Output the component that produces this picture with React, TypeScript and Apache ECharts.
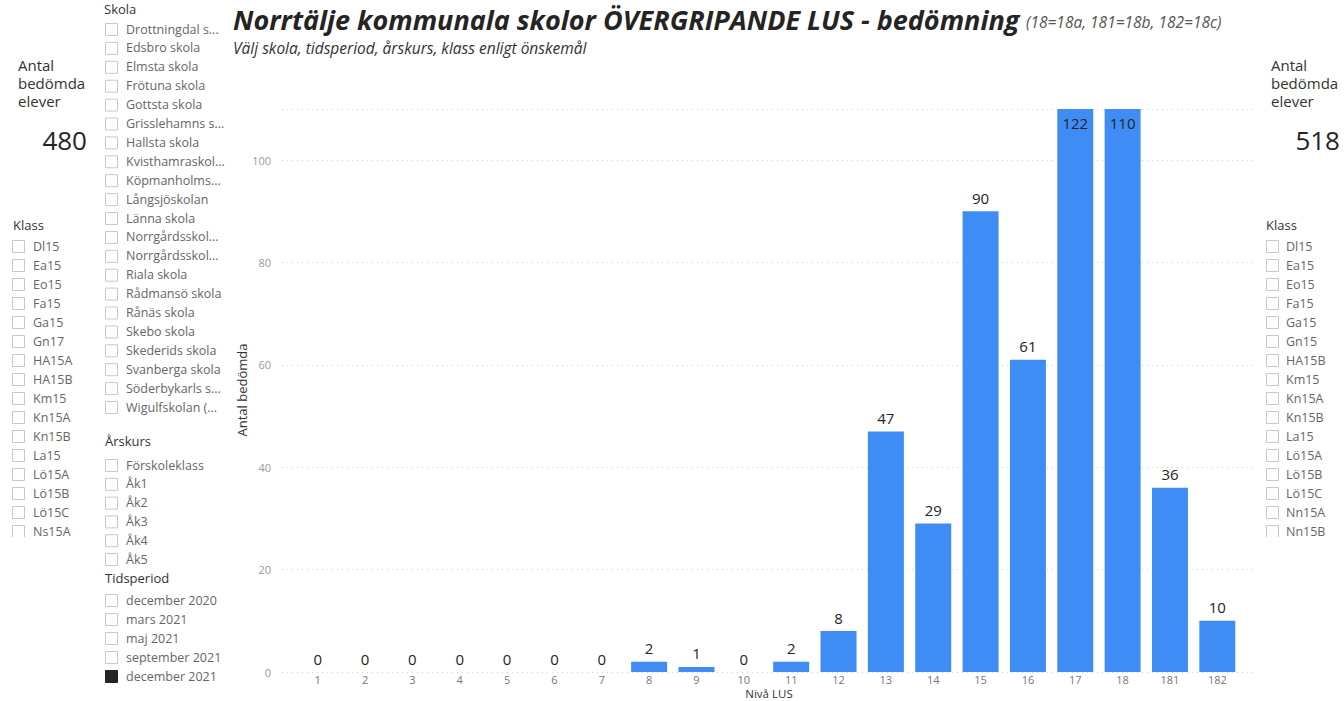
import React, { useEffect, useRef } from "react";
import * as echarts from "echarts";

const categories = ["1", "2", "3", "4", "5", "6", "7", "8", "9", "10", "11", "12", "13", "14", "15", "16", "17", "18", "181", "182"];
const values = [0, 0, 0, 0, 0, 0, 0, 2, 1, 0, 2, 8, 47, 29, 90, 61, 122, 110, 36, 10];
const yTicks = [0, 20, 40, 60, 80, 100];
const yMax = 110;
const xTitle = "Nivå LUS";
const yTitle = "Antal bedömda";

const skolaItems = [
  "Drottningdal s...", "Edsbro skola", "Elmsta skola", "Frötuna skola", "Gottsta skola",
  "Grisslehamns s...", "Hallsta skola", "Kvisthamraskol...", "Köpmanholms...", "Långsjöskolan",
  "Länna skola", "Norrgårdsskol...", "Norrgårdsskol...", "Riala skola", "Rådmansö skola",
  "Rånäs skola", "Skebo skola", "Skederids skola", "Svanberga skola", "Söderbykarls s...",
  "Wigulfskolan (...",
];
const arskursItems = ["Förskoleklass", "Åk1", "Åk2", "Åk3", "Åk4", "Åk5"];
const tidsperiodItems = ["december 2020", "mars 2021", "maj 2021", "september 2021", "december 2021"];
const tidsperiodSelected = ["december 2021"];
const klassLeft = ["Dl15", "Ea15", "Eo15", "Fa15", "Ga15", "Gn17", "HA15A", "HA15B", "Km15", "Kn15A", "Kn15B", "La15", "Lö15A", "Lö15B", "Lö15C", "Ns15A"];
const klassRight = ["Dl15", "Ea15", "Eo15", "Fa15", "Ga15", "Gn15", "HA15B", "Km15", "Kn15A", "Kn15B", "La15", "Lö15A", "Lö15B", "Lö15C", "Nn15A", "Nn15B"];
const cardLeftValue = "480";
const cardRightValue = "518";

const FONT = "'Open Sans', 'Noto Sans', sans-serif";
const BAR = "#3F8DF4";

function slicer(items: string[], x: number, y0: number, step: number, textX: number, selected: string[] = []) {
  const els: any[] = [];
  items.forEach((it, i) => {
    const y = y0 + i * step;
    const sel = selected.includes(it);
    els.push({
      type: "rect",
      shape: { x: x + 0.5, y: y - 6 + 0.5, width: 12, height: 12 },
      style: { fill: sel ? "#252423" : "#fff", stroke: sel ? "#252423" : "#c8c8c8", lineWidth: 1 },
      z: 10,
    });
    els.push({
      type: "text",
      x: textX,
      y,
      style: { text: it, font: `12.5px ${FONT}`, fill: "#666", verticalAlign: "middle" },
      z: 10,
    });
  });
  return els;
}

function header(text: string, x: number, y: number) {
  return {
    type: "text",
    x,
    y,
    style: { text, font: `13px ${FONT}`, fill: "#333", verticalAlign: "middle" },
    z: 10,
  };
}

function card(x: number, rightX: number, value: string) {
  return [
    { type: "text", x, y: 65, style: { text: "Antal", font: `15px ${FONT}`, fill: "#333", verticalAlign: "middle" }, z: 10 },
    { type: "text", x, y: 83, style: { text: "bedömda", font: `15px ${FONT}`, fill: "#333", verticalAlign: "middle" }, z: 10 },
    { type: "text", x, y: 101, style: { text: "elever", font: `15px ${FONT}`, fill: "#333", verticalAlign: "middle" }, z: 10 },
    { type: "text", x: rightX, y: 140, style: { text: value, font: `26px ${FONT}`, fill: "#252423", align: "right", verticalAlign: "middle" }, z: 10 },
  ];
}

export default function App() {
  const ref = useRef<HTMLDivElement>(null);
  useEffect(() => {
    document.body.style.margin = "0";
    const chart = echarts.init(ref.current!, null, { renderer: "svg" });
    const graphics: any[] = [
      {
        type: "text",
        x: 233,
        y: 19,
        style: {
          text: "Norrtälje kommunala skolor ÖVERGRIPANDE LUS - bedömning",
          font: `italic bold 27px ${FONT}`,
          fill: "#252423",
          verticalAlign: "middle",
        },
      },
      {
        type: "text",
        x: 1026,
        y: 22,
        style: { text: "(18=18a, 181=18b, 182=18c)", font: `italic 15.5px ${FONT}`, fill: "#555", verticalAlign: "middle" },
      },
      {
        type: "text",
        x: 233,
        y: 48,
        style: { text: "Välj skola, tidsperiod, årskurs, klass enligt önskemål", font: `italic 15.5px ${FONT}`, fill: "#333", verticalAlign: "middle" },
      },
      {
        type: "text",
        x: 769,
        y: 693,
        style: { text: xTitle, font: `11.5px ${FONT}`, fill: "#333", align: "center", verticalAlign: "middle" },
      },
      {
        type: "text",
        x: 242,
        y: 390,
        rotation: Math.PI / 2,
        style: { text: yTitle, font: `13px ${FONT}`, fill: "#333", align: "center", verticalAlign: "middle" },
      },
      header("Skola", 104, 9),
      ...slicer(skolaItems, 105, 29, 18.9, 126),
      header("Årskurs", 105, 441),
      ...slicer(arskursItems, 105, 465, 18.8, 126),
      header("Tidsperiod", 105, 578),
      ...slicer(tidsperiodItems, 105, 600, 19, 126, tidsperiodSelected),
      header("Klass", 13, 225),
      ...slicer(klassLeft, 12, 246, 19, 33),
      header("Klass", 1266, 225),
      ...slicer(klassRight, 1266, 246, 19, 1286),
      { type: "rect", shape: { x: 0, y: 537, width: 100, height: 30 }, style: { fill: "#fff" }, z: 20 },
      { type: "rect", shape: { x: 1260, y: 537, width: 84, height: 30 }, style: { fill: "#fff" }, z: 20 },
      ...card(18, 87, cardLeftValue),
      ...card(1271, 1340, cardRightValue),
    ];

    const option: any = {
      animation: false,
      backgroundColor: "#fff",
      graphic: graphics,
      grid: [
        { left: 282, top: 109, width: 975, height: 563, outerBoundsMode: "none", containLabel: false },
        { left: 294, top: 109, width: 947, height: 563, outerBoundsMode: "none", containLabel: false },
      ],
      xAxis: [
        { type: "category", gridIndex: 0, data: categories, show: false },
        {
          type: "category",
          gridIndex: 1,
          data: categories,
          axisLine: { show: false },
          axisTick: { show: false },
          axisLabel: { color: "#777", fontSize: 11, fontFamily: FONT, margin: 2 },
        },
      ],
      yAxis: [
        {
          type: "value",
          gridIndex: 0,
          min: 0,
          max: yMax,
          interval: 20,
          axisLine: { show: false },
          axisTick: { show: false },
          axisLabel: {
            color: "#999",
            fontSize: 11,
            fontFamily: FONT,
            margin: 11,
            formatter: (v: number) => (yTicks.includes(v) ? String(v) : ""),
          },
          splitLine: { show: true, lineStyle: { color: "#ccc", type: [1, 4], width: 1 } },
        },
        { type: "value", gridIndex: 1, min: 0, max: yMax, interval: 20, show: false, splitLine: { show: false } },
      ],
      series: [
        {
          type: "bar",
          xAxisIndex: 1,
          yAxisIndex: 1,
          barCategoryGap: "24%",
          itemStyle: { color: BAR },
          data: values.map((v) => ({
            value: v,
            label: { position: v >= yMax - 5 ? "insideTop" : "top", distance: 6 },
          })),
          label: { show: true, color: "#252423", fontSize: 15, fontFamily: FONT },
        },
      ],
    };
    chart.setOption(option);
    return () => chart.dispose();
  }, []);
  return <div ref={ref} style={{ width: 1344, height: 701 }} />;
}
